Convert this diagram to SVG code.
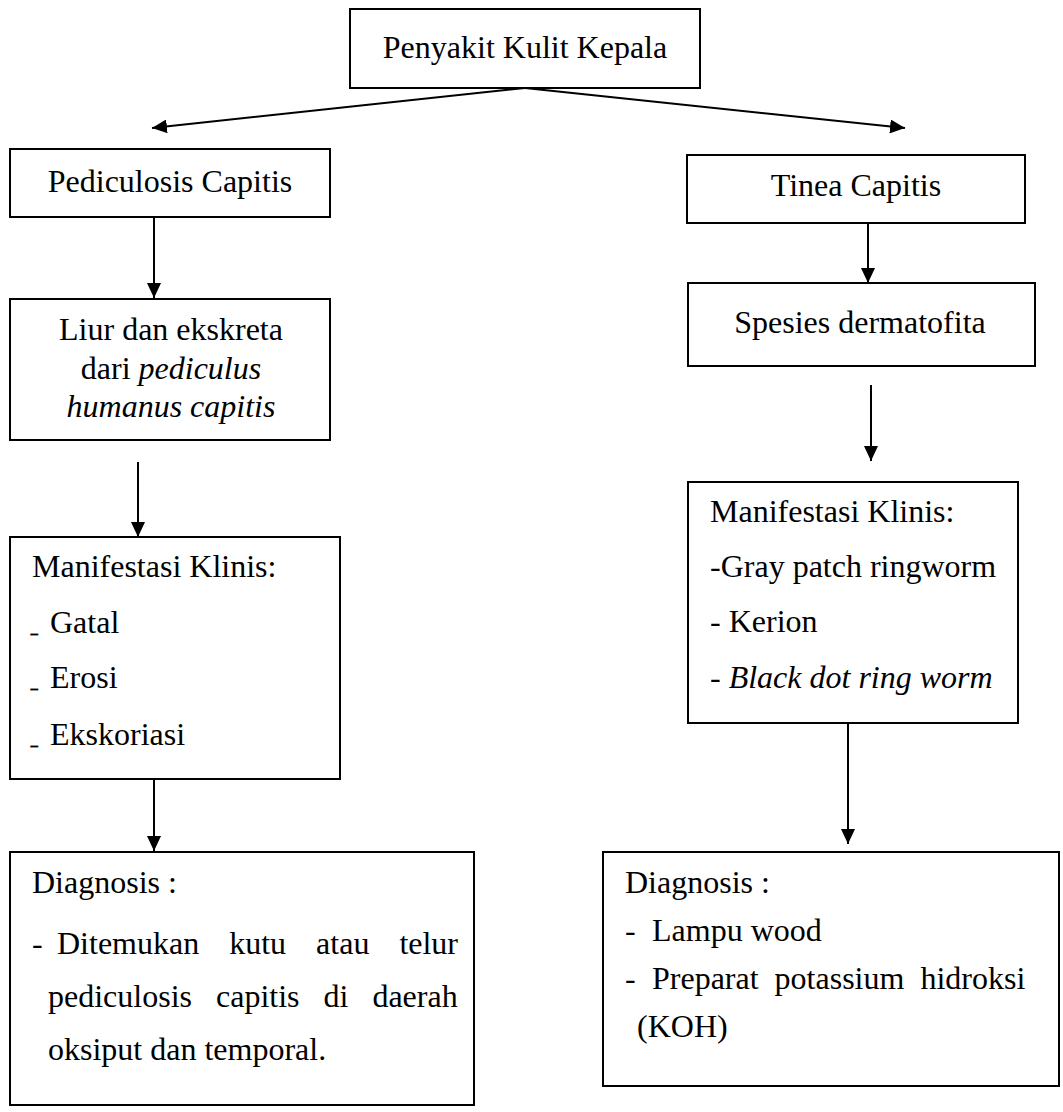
<svg xmlns="http://www.w3.org/2000/svg" width="1063" height="1112" viewBox="0 0 1063 1112">
<style>
.box{fill:#fff;stroke:#000;stroke-width:2}
.t{font-family:"Liberation Serif","Times New Roman",serif;font-size:32px;fill:#000}
.c{text-anchor:middle}
.i{font-style:italic}
.u{font-size:13px;stroke:#000;stroke-width:1.2}
.conn line{stroke:#000;stroke-width:2;marker-end:url(#ah)}
</style>
<defs>
<marker id="ah" markerUnits="userSpaceOnUse" markerWidth="15" markerHeight="14" refX="15" refY="7" orient="auto">
<path d="M0,0 L15,7 L0,14 z" fill="#000"/>
</marker>
</defs>
<rect width="1063" height="1112" fill="#fff"/>
<g id="connectors" class="conn">
<line x1="525" y1="88" x2="152" y2="128"/>
<line x1="525" y1="88" x2="905" y2="128"/>
<line x1="154" y1="218" x2="154" y2="298"/>
<line x1="868" y1="224" x2="868" y2="283"/>
<line x1="138" y1="462" x2="138" y2="537"/>
<line x1="871" y1="385" x2="871" y2="461"/>
<line x1="154" y1="780" x2="154" y2="851"/>
<line x1="848" y1="724" x2="848" y2="844"/>
</g>
<g id="n-root">
<rect class="box" x="350" y="9" width="350" height="79"/>
<text class="t c" x="525" y="58">Penyakit Kulit Kepala</text>
</g>
<g id="n-pediculosis">
<rect class="box" x="10" y="149" width="320" height="68"/>
<text class="t c" x="170" y="192">Pediculosis Capitis</text>
</g>
<g id="n-tinea">
<rect class="box" x="687" y="155" width="338" height="68"/>
<text class="t c" x="856" y="196">Tinea Capitis</text>
</g>
<g id="n-liur">
<rect class="box" x="10" y="299" width="320" height="141"/>
<text class="t c" x="171" y="340">Liur dan ekskreta</text>
<text class="t c" x="171" y="379">dari <tspan class="i">pediculus</tspan></text>
<text class="t c i" x="171" y="417">humanus capitis</text>
</g>
<g id="n-spesies">
<rect class="box" x="688" y="283" width="347" height="83"/>
<text class="t c" x="860" y="333">Spesies dermatofita</text>
</g>
<g id="n-manifest-left">
<rect class="box" x="10" y="537" width="330" height="242"/>
<text class="t" x="32" y="577">Manifestasi Klinis:</text>
<text class="t u" x="31" y="633">_</text><text class="t" x="50" y="633">Gatal</text>
<text class="t u" x="31" y="688">_</text><text class="t" x="50" y="688">Erosi</text>
<text class="t u" x="31" y="745">_</text><text class="t" x="50" y="745">Ekskoriasi</text>
</g>
<g id="n-manifest-right">
<rect class="box" x="688" y="482" width="330" height="241"/>
<text class="t" x="710" y="522">Manifestasi Klinis:</text>
<text class="t" x="710" y="577">-Gray patch ringworm</text>
<text class="t" x="710" y="632">- Kerion</text>
<text class="t" x="710" y="688">- <tspan class="i">Black dot ring worm</tspan></text>
</g>
<g id="n-diagnosis-left">
<rect class="box" x="10" y="852" width="464" height="253"/>
<text class="t" x="32" y="893">Diagnosis :</text>
<text class="t" x="32" y="954">-</text>
<text class="t" x="57" y="954" style="word-spacing:22px">Ditemukan kutu atau telur</text>
<text class="t" x="48" y="1007" style="word-spacing:16px">pediculosis capitis di daerah</text>
<text class="t" x="48" y="1060">oksiput dan temporal.</text>
</g>
<g id="n-diagnosis-right">
<rect class="box" x="603" y="852" width="456" height="234"/>
<text class="t" x="625" y="893">Diagnosis :</text>
<text class="t" x="625" y="941">-</text>
<text class="t" x="652" y="941">Lampu wood</text>
<text class="t" x="625" y="989">-</text>
<text class="t" x="652" y="989" style="word-spacing:8px">Preparat potassium hidroksi</text>
<text class="t" x="637" y="1037">(KOH)</text>
</g>
</svg>
